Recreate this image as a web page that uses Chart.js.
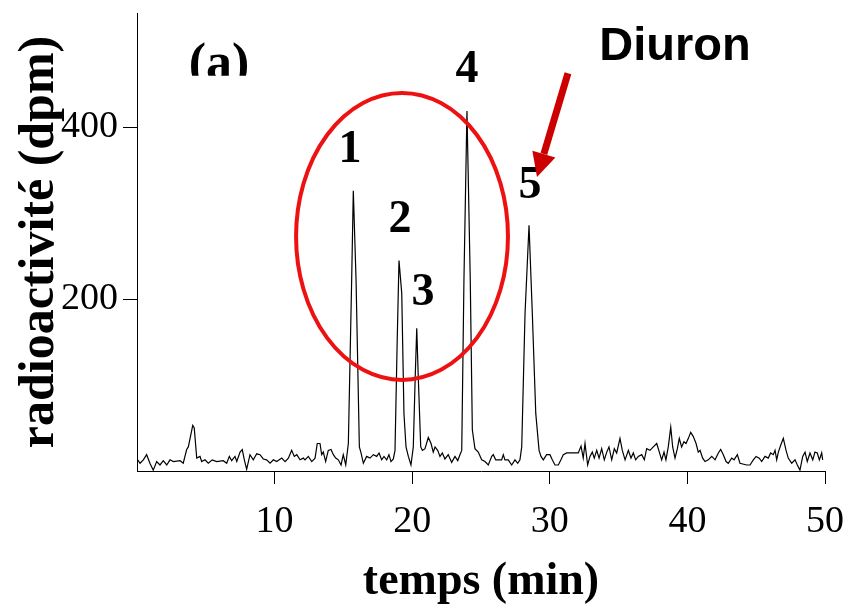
<!DOCTYPE html>
<html>
<head>
<meta charset="utf-8">
<script src="https://cdn.jsdelivr.net/npm/chart.js@4.4.1/dist/chart.umd.min.js"></script>
<style>
  html, body { margin: 0; padding: 0; background: #fff; }
  canvas { display: block; }
</style>
</head>
<body>
<canvas id="chromato" width="850" height="610"></canvas>
<script>
// retention times (min), traced vertex by vertex
var times = [0.05,0.22,0.46,0.70,0.94,1.18,1.43,1.67,1.91,2.16,2.40,2.64,3.13,3.36,3.61,3.73,4.05,4.16,4.34,4.58,
  4.70,4.94,5.18,5.47,5.79,6.27,6.52,6.71,6.88,7.12,7.25,7.49,7.65,7.80,7.97,8.21,8.45,8.70,8.94,9.18,
  9.42,9.67,9.91,10.15,10.52,10.76,11.00,11.24,11.43,11.61,11.85,12.09,
  12.21,12.45,12.70,12.94,13.10,13.30,13.42,13.54,13.71,13.90,14.10,14.27,14.44,14.63,14.83,14.99,15.17,15.36,
  15.60,15.72,15.92,16.16,16.28,16.45,16.69,16.93,17.18,17.42,17.59,17.78,17.95,18.15,18.31,18.46,18.63,18.75,
  18.90,19.04,19.24,19.40,19.55,19.72,19.91,20.08,20.22,20.33,20.44,20.62,
  20.74,20.93,21.17,21.37,21.53,21.66,21.85,22.02,22.19,22.38,22.62,22.87,23.11,23.31,23.47,
  23.60,23.76,23.98,24.22,24.37,24.56,
  24.80,25.05,25.29,25.53,25.78,25.89,26.07,26.50,26.62,26.74,26.98,27.23,27.47,27.67,27.83,
  27.96,28.20,28.49,28.73,28.98,29.22,
  29.36,29.53,29.77,30.01,30.18,30.38,30.62,30.81,30.98,31.23,32.07,32.27,32.43,32.56,32.75,32.92,33.09,33.23,33.41,33.58,
  33.77,33.96,34.14,34.30,34.50,34.69,34.86,35.10,35.27,35.47,35.71,35.90,36.07,36.24,36.43,36.68,36.87,37.04,
  37.28,37.52,37.77,37.96,38.13,38.30,38.44,38.61,38.79,38.93,39.10,39.27,39.41,39.58,39.75,39.90,40.07,40.24,40.43,40.63,
  40.79,40.92,41.11,41.28,41.52,41.77,42.01,42.25,42.42,42.61,42.81,42.97,43.22,43.39,43.63,43.82,44.31,44.55,44.79,44.99,
  45.22,45.40,45.64,45.88,46.05,46.24,46.37,46.49,46.61,46.78,46.97,47.17,47.33,47.58,47.82,47.99,48.18,48.38,48.55,48.71,
  48.91,49.11,49.27,49.44,49.59,49.76,49.83];

// radioactivity (dpm)
var counts = [13,9,13,19,9,1,11,7,12,7,13,11,12,9,25,28,53,50,15,17,
  11,13,9,13,11,12,9,17,12,17,11,22,25,13,2,19,13,20,19,14,
  13,9,13,11,15,11,15,24,17,19,13,15,
  13,17,11,15,32,32,19,22,11,24,25,19,15,13,7,19,7,32,
  222,326,222,28,21,9,17,15,19,17,21,13,17,13,19,11,14,24,
  144,245,207,67,28,17,7,28,110,166,110,28,
  24,26,39,32,22,28,24,17,21,14,19,10,17,12,19,
  24,222,419,222,48,26,
  22,13,11,7,17,19,13,13,19,13,13,7,13,9,13,
  28,183,286,183,67,24,
  17,13,19,19,13,7,7,13,19,21,21,29,15,32,7,17,22,15,24,15,
  26,13,22,28,13,26,21,38,24,13,24,15,21,13,17,19,13,26,
  24,28,32,22,13,22,13,28,51,28,15,26,38,28,34,32,38,45,40,32,
  22,24,15,11,13,17,13,21,25,19,11,9,15,13,19,9,7,7,13,17,
  15,11,17,15,21,19,24,13,22,30,38,24,15,9,13,7,1,17,22,11,
  21,13,22,21,13,21,13];

var xTicks = [10, 20, 30, 40, 50];
var yTicks = [200, 400];

var peakNames = ["1", "2", "3", "4", "5"];
var peakLabelAt = [[15.48, 374], [19.11, 292], [20.78, 207], [23.98, 466], [28.56, 331]];

var points = times.map(function (t, i) { return { x: t, y: counts[i] }; });

var serif = "'Liberation Serif', 'Times New Roman', serif";

// red ellipse, peak numbers, (a), Diuron + arrow
var overlay = {
  id: "overlay",
  beforeDraw: function (chart) {
    var c = chart.ctx;
    c.save();
    c.fillStyle = "#fff";
    c.fillRect(0, 0, chart.width, chart.height);
    c.restore();
  },
  afterDatasetsDraw: function (chart) {
    var c = chart.ctx, xs = chart.scales.x, ys = chart.scales.y;
    var px = function (v) { return xs.getPixelForValue(v); };
    var py = function (v) { return ys.getPixelForValue(v); };

    // ellipse around peaks 1-3
    var cx = px(19.26), cy = py(273);
    var rx = px(19.26 + 7.7) - cx, ry = cy - py(273 + 167);
    c.save();
    c.strokeStyle = "#ee1111";
    c.lineWidth = 4;
    c.beginPath();
    c.ellipse(cx, cy, rx, ry, 0, 0, Math.PI * 2);
    c.stroke();
    c.restore();

    // peak numbers
    c.save();
    c.fillStyle = "#000";
    c.font = "bold 46px " + serif;
    c.textAlign = "center";
    c.textBaseline = "middle";
    peakNames.forEach(function (n, i) {
      c.fillText(n, px(peakLabelAt[i][0]), py(peakLabelAt[i][1]));
    });
    c.restore();

    // "(a)" cut off at the bottom
    c.save();
    c.beginPath();
    c.rect(0, 0, chart.width, py(460));
    c.clip();
    c.fillStyle = "#000";
    c.font = "bold 52px " + serif;
    c.textAlign = "center";
    c.textBaseline = "alphabetic";
    c.fillText("(a)", px(5.96), py(456));
    c.restore();

    // Diuron
    c.save();
    c.fillStyle = "#000";
    c.font = "bold 47px 'Liberation Sans', Arial, sans-serif";
    c.textAlign = "center";
    c.textBaseline = "middle";
    c.fillText("Diuron", px(39.1), py(493));
    c.restore();

    // arrow to peak 5
    var x0 = px(31.32), y0 = py(463), x1 = px(29.07), y1 = py(342);
    var ang = Math.atan2(y1 - y0, x1 - x0);
    var headLen = 24, headHalf = 12;
    var bx = x1 - headLen * Math.cos(ang), by = y1 - headLen * Math.sin(ang);
    c.save();
    c.strokeStyle = "#cc0000";
    c.fillStyle = "#cc0000";
    c.lineWidth = 7;
    c.beginPath();
    c.moveTo(x0, y0);
    c.lineTo(bx, by);
    c.stroke();
    c.beginPath();
    c.moveTo(x1, y1);
    c.lineTo(bx + headHalf * Math.sin(ang), by - headHalf * Math.cos(ang));
    c.lineTo(bx - headHalf * Math.sin(ang), by + headHalf * Math.cos(ang));
    c.closePath();
    c.fill();
    c.restore();
  }
};

new Chart(document.getElementById("chromato"), {
  type: "line",
  data: {
    datasets: [{
      data: points,
      borderColor: "#000",
      borderWidth: 1.2,
      pointRadius: 0,
      tension: 0,
      fill: false
    }]
  },
  options: {
    responsive: false,
    animation: false,
    layout: { padding: { top: 13, right: 25, bottom: 0, left: 0 } },
    plugins: { legend: { display: false }, tooltip: { enabled: false } },
    scales: {
      x: {
        type: "linear",
        min: 0,
        max: 50,
        afterBuildTicks: function (s) { s.ticks = xTicks.map(function (v) { return { value: v }; }); },
        afterFit: function (s) { s.height = 139; s.paddingLeft = 0; s.paddingRight = 0; },
        grid: { display: true, drawOnChartArea: false, tickLength: 13, color: "#000", lineWidth: 1 },
        border: { display: true, color: "#000", width: 1 },
        ticks: { color: "#000", padding: 15, maxRotation: 0, font: { family: serif, size: 38 } },
        title: {
          display: true,
          text: "temps (min)",
          color: "#000",
          font: { family: serif, size: 46, weight: "bold", lineHeight: 1 },
          padding: { top: 0, bottom: 5 }
        }
      },
      y: {
        min: 0,
        max: 533,
        afterBuildTicks: function (s) { s.ticks = yTicks.map(function (v) { return { value: v }; }); },
        afterFit: function (s) { s.width = 137; s.paddingTop = 0; s.paddingBottom = 0; },
        grid: { display: true, drawOnChartArea: false, tickLength: 14, color: "#000", lineWidth: 1 },
        border: { display: true, color: "#000", width: 1 },
        ticks: { color: "#000", padding: 5, font: { family: serif, size: 38 } },
        title: {
          display: true,
          text: "radioactivité (dpm)",
          color: "#000",
          font: { family: serif, size: 50, weight: "bold", lineHeight: 1 },
          padding: { top: 15, bottom: 0 }
        }
      }
    }
  },
  plugins: [overlay]
});
</script>
</body>
</html>
